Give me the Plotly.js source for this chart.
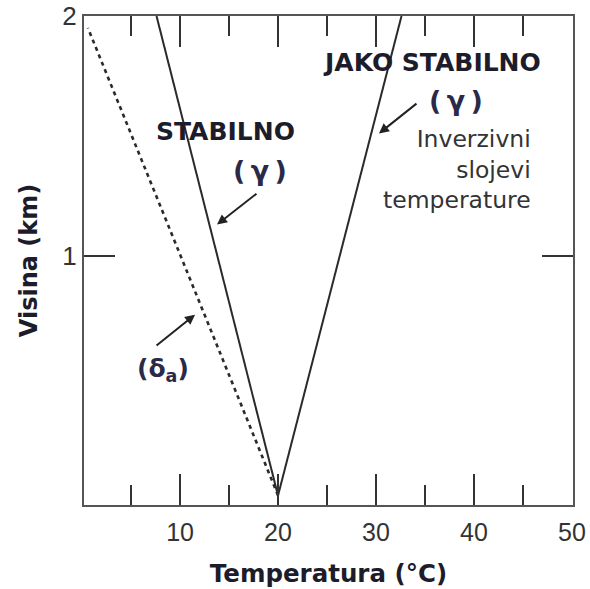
<!DOCTYPE html>
<html>
<head>
<meta charset="utf-8">
<script src="https://cdn.plot.ly/plotly-3.0.1.min.js"></script>
<style>html,body{margin:0;padding:0;background:#fff}#chart{width:590px;height:589px}</style>
</head>
<body>
<div id="chart"></div>
<script>
// Data (temperature in °C, height in km)
const dryAdiabatTemp = [20, 0.6];
const dryAdiabatHeight = [0, 1.95];
const stableTemp = [20, 7.6];
const stableHeight = [0, 2];
const inversionTemp = [20, 32.6];
const inversionHeight = [0, 2];
const xTickVals = [10, 20, 30, 40, 50];
const yTickVals = [1, 2];
const yTickText = ['1', '2'];

const lineColor = '#2a2a2a';
const traces = [
  {x: dryAdiabatTemp, y: dryAdiabatHeight, mode: 'lines', line: {color: lineColor, width: 2.6, dash: '4px,4px'}, hoverinfo: 'skip'},
  {x: stableTemp, y: stableHeight, mode: 'lines', line: {color: lineColor, width: 2}, hoverinfo: 'skip'},
  {x: inversionTemp, y: inversionHeight, mode: 'lines', line: {color: lineColor, width: 2}, hoverinfo: 'skip'}
];

const boldFont = (s, c) => ({family: 'DejaVu Sans, Verdana, sans-serif', size: s, color: c || '#1c1c2a', weight: 'bold'});
const txt = (x, y, text, font, extra) => Object.assign({x, y, xref: 'x', yref: 'y', text, showarrow: false, font}, extra || {});
const arrow = (x, y, ax, ay) => ({x, y, xref: 'x', yref: 'y', ax, ay, text: '', showarrow: true, arrowhead: 2, arrowsize: 1, arrowwidth: 2, arrowcolor: '#222'});

const annotations = [
  txt(14.6, 1.517, '<b>STABILNO</b>', boldFont(25)),
  txt(18.2, 1.354, '<b>(\u2009γ\u2009)</b>', boldFont(27, '#2a2a48')),
  txt(35.7, 1.808, '<b>JAKO STABILNO</b>', boldFont(25)),
  txt(38.2, 1.646, '<b>(\u2009γ\u2009)</b>', boldFont(27, '#2a2a48')),
  txt(46.0, 1.358, 'Inverzivni<br>slojevi<br>temperature', {family: 'DejaVu Sans, Verdana, sans-serif', size: 23.5, color: '#333'}, {align: 'right', xanchor: 'right'}),
  txt(8.3, 0.525, '<b>(δ<sub>a</sub>)</b>', boldFont(25, '#2a2a48')),
  arrow(13.77, 1.13, 41, -32),
  arrow(30.3, 1.51, 39, -31),
  arrow(11.53, 0.754, -40, 32)
];

const layout = {
  width: 590, height: 589,
  margin: {l: 84, r: 17, t: 16, b: 84},
  paper_bgcolor: '#fff', plot_bgcolor: '#fff',
  showlegend: false,
  xaxis: {
    range: [0.2, 50.1], tickvals: xTickVals, ticks: 'inside', ticklen: 31, tickwidth: 2, tickcolor: '#333',
    showline: true, linecolor: '#555', linewidth: 2, mirror: 'ticks', showgrid: false, zeroline: false,
    ticklabelstandoff: 4,
    tickfont: {family: 'Liberation Sans, Arial, sans-serif', size: 25, color: '#333'},
    minor: {dtick: 5, tick0: 0, ticks: 'inside', ticklen: 20, tickwidth: 2, tickcolor: '#333', showgrid: false},
    title: {text: 'Temperatura (°C)', font: boldFont(24.5), standoff: 20}
  },
  yaxis: {
    range: [-0.04, 2], tickvals: yTickVals, ticktext: yTickText, ticks: 'inside', ticklen: 31, tickwidth: 2, tickcolor: '#333',
    showline: true, linecolor: '#555', linewidth: 2, mirror: 'ticks', showgrid: false, zeroline: false,
    tickfont: {family: 'Liberation Sans, Arial, sans-serif', size: 26, color: '#333'},
    title: {text: 'Visina (km)', font: boldFont(24), standoff: 18}
  },
  annotations
};

Plotly.newPlot('chart', traces, layout, {displayModeBar: false, staticPlot: true});
</script>
</body>
</html>
